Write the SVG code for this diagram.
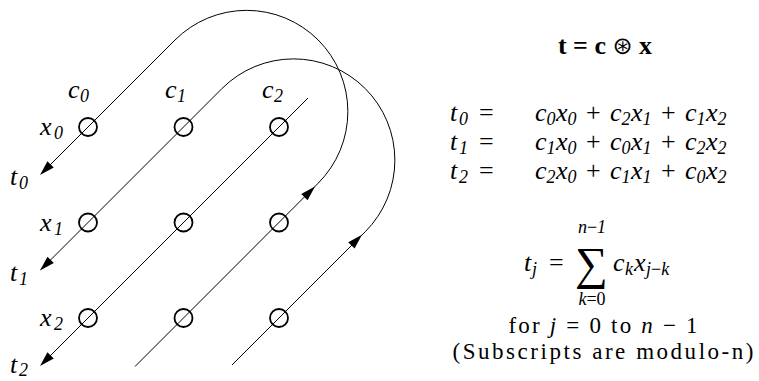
<svg xmlns="http://www.w3.org/2000/svg" xmlns:xlink="http://www.w3.org/1999/xlink" width="759" height="381" viewBox="0 0 759 381">
<style>
.bg{fill:#fff}
.ln{fill:none;stroke:#000;stroke-width:1}
.nd{fill:none;stroke:#000;stroke-width:1.8}
.ah{fill:#000}
.m{font-family:"Liberation Serif",serif;font-style:italic;font-size:26px;fill:#000}
.s{font-size:18px}
.u{font-style:normal}
.t{font-family:"Liberation Serif",serif;font-weight:bold;font-size:26px;fill:#000}
.op{font-family:"DejaVu Sans",sans-serif;font-weight:normal;font-size:24px}
.r{font-family:"Liberation Serif",serif;font-size:23px;fill:#000}
</style>
<defs>
<path id="arrow" class="ah" d="M0,0 L-15,-4.5 L-15,4.5 Z"/>
</defs>
<rect class="bg" x="0" y="0" width="759" height="381"/>
<g id="connectors">
<path class="ln" d="M135,366.5 L318.2,183.2 A100,100 0 0 0 175,40 L41,174"/>
<path class="ln" d="M232,365 L365.2,231.8 A100,100 0 0 0 222,88.5 L41,269.5"/>
<path class="ln" d="M308,98 L41,365"/>
<use xlink:href="#arrow" href="#arrow" transform="translate(40,175) rotate(135)"/>
<use xlink:href="#arrow" href="#arrow" transform="translate(40,270.5) rotate(135)"/>
<use xlink:href="#arrow" href="#arrow" transform="translate(40,366) rotate(135)"/>
<use xlink:href="#arrow" href="#arrow" transform="translate(315,186.5) rotate(-45)"/>
<use xlink:href="#arrow" href="#arrow" transform="translate(362,234.8) rotate(-45)"/>
</g>
<g id="node-0-0"><circle class="nd" cx="88" cy="127" r="9"/></g>
<g id="node-0-1"><circle class="nd" cx="183.5" cy="127" r="9"/></g>
<g id="node-0-2"><circle class="nd" cx="279" cy="127" r="9"/></g>
<g id="node-1-0"><circle class="nd" cx="88" cy="222.5" r="9"/></g>
<g id="node-1-1"><circle class="nd" cx="183.5" cy="222.5" r="9"/></g>
<g id="node-1-2"><circle class="nd" cx="279" cy="222.5" r="9"/></g>
<g id="node-2-0"><circle class="nd" cx="88" cy="318" r="9"/></g>
<g id="node-2-1"><circle class="nd" cx="183.5" cy="318" r="9"/></g>
<g id="node-2-2"><circle class="nd" cx="279" cy="318" r="9"/></g>
<g id="labels" class="m">
<text x="68" y="98">c<tspan class="s" x="80" y="102">0</tspan></text>
<text x="165" y="98">c<tspan class="s" x="177" y="102">1</tspan></text>
<text x="262" y="98">c<tspan class="s" x="274" y="102">2</tspan></text>
<text x="40" y="135">x<tspan class="s" x="54" y="139">0</tspan></text>
<text x="40" y="230.5">x<tspan class="s" x="54" y="234.5">1</tspan></text>
<text x="40" y="326">x<tspan class="s" x="54" y="330">2</tspan></text>
<text x="10" y="185">t<tspan class="s" x="19" y="189">0</tspan></text>
<text x="10" y="280.5">t<tspan class="s" x="19" y="284.5">1</tspan></text>
<text x="10" y="373">t<tspan class="s" x="19" y="376" font-size="17px">2</tspan></text>
</g>
<g id="equations">
<text class="t" x="605" y="54" text-anchor="middle">t = c <tspan class="op">⊛</tspan> x</text>
<g class="m">
<text y="121"><tspan x="450">t</tspan><tspan class="s" x="459" y="125">0</tspan><tspan class="u" x="479" y="121">=</tspan><tspan x="535">c</tspan><tspan class="s" x="546.5" y="125">0</tspan><tspan x="556" y="121">x</tspan><tspan class="s" x="567.5" y="125">0</tspan><tspan class="u" x="586" y="121">+</tspan><tspan x="610">c</tspan><tspan class="s" x="621.5" y="125">2</tspan><tspan x="631" y="121">x</tspan><tspan class="s" x="642.5" y="125">1</tspan><tspan class="u" x="661" y="121">+</tspan><tspan x="685">c</tspan><tspan class="s" x="696.5" y="125">1</tspan><tspan x="706" y="121">x</tspan><tspan class="s" x="717.5" y="125">2</tspan></text>
<text y="150"><tspan x="450">t</tspan><tspan class="s" x="459" y="154">1</tspan><tspan class="u" x="479" y="150">=</tspan><tspan x="535">c</tspan><tspan class="s" x="546.5" y="154">1</tspan><tspan x="556" y="150">x</tspan><tspan class="s" x="567.5" y="154">0</tspan><tspan class="u" x="586" y="150">+</tspan><tspan x="610">c</tspan><tspan class="s" x="621.5" y="154">0</tspan><tspan x="631" y="150">x</tspan><tspan class="s" x="642.5" y="154">1</tspan><tspan class="u" x="661" y="150">+</tspan><tspan x="685">c</tspan><tspan class="s" x="696.5" y="154">2</tspan><tspan x="706" y="150">x</tspan><tspan class="s" x="717.5" y="154">2</tspan></text>
<text y="179"><tspan x="450">t</tspan><tspan class="s" x="459" y="183">2</tspan><tspan class="u" x="479" y="179">=</tspan><tspan x="535">c</tspan><tspan class="s" x="546.5" y="183">2</tspan><tspan x="556" y="179">x</tspan><tspan class="s" x="567.5" y="183">0</tspan><tspan class="u" x="586" y="179">+</tspan><tspan x="610">c</tspan><tspan class="s" x="621.5" y="183">1</tspan><tspan x="631" y="179">x</tspan><tspan class="s" x="642.5" y="183">1</tspan><tspan class="u" x="661" y="179">+</tspan><tspan x="685">c</tspan><tspan class="s" x="696.5" y="183">0</tspan><tspan x="706" y="179">x</tspan><tspan class="s" x="717.5" y="183">2</tspan></text>
<text y="271"><tspan x="524">t</tspan><tspan class="s" x="532" y="275">j</tspan><tspan class="u" x="549" y="271">=</tspan></text>
<text class="u" x="591.5" y="279" text-anchor="middle" font-size="46">∑</text>
<text class="s" x="592" y="233" text-anchor="middle">n<tspan class="u">−</tspan>1</text>
<text class="s" x="592" y="305" text-anchor="middle">k<tspan class="u">=</tspan><tspan class="u">0</tspan></text>
<text y="271"><tspan x="613">c</tspan><tspan class="s" x="625" y="275">k</tspan><tspan x="634" y="271">x</tspan><tspan class="s" x="646" y="275">j<tspan class="u">−</tspan>k</tspan></text>
</g>
<text class="r" x="603" y="333" text-anchor="middle" textLength="189" lengthAdjust="spacing">for <tspan font-style="italic">j</tspan> = 0 to <tspan font-style="italic">n</tspan> − 1</text>
<text class="r" x="603" y="358.5" text-anchor="middle" textLength="301" lengthAdjust="spacing">(Subscripts are modulo-n)</text>
</g>
</svg>
